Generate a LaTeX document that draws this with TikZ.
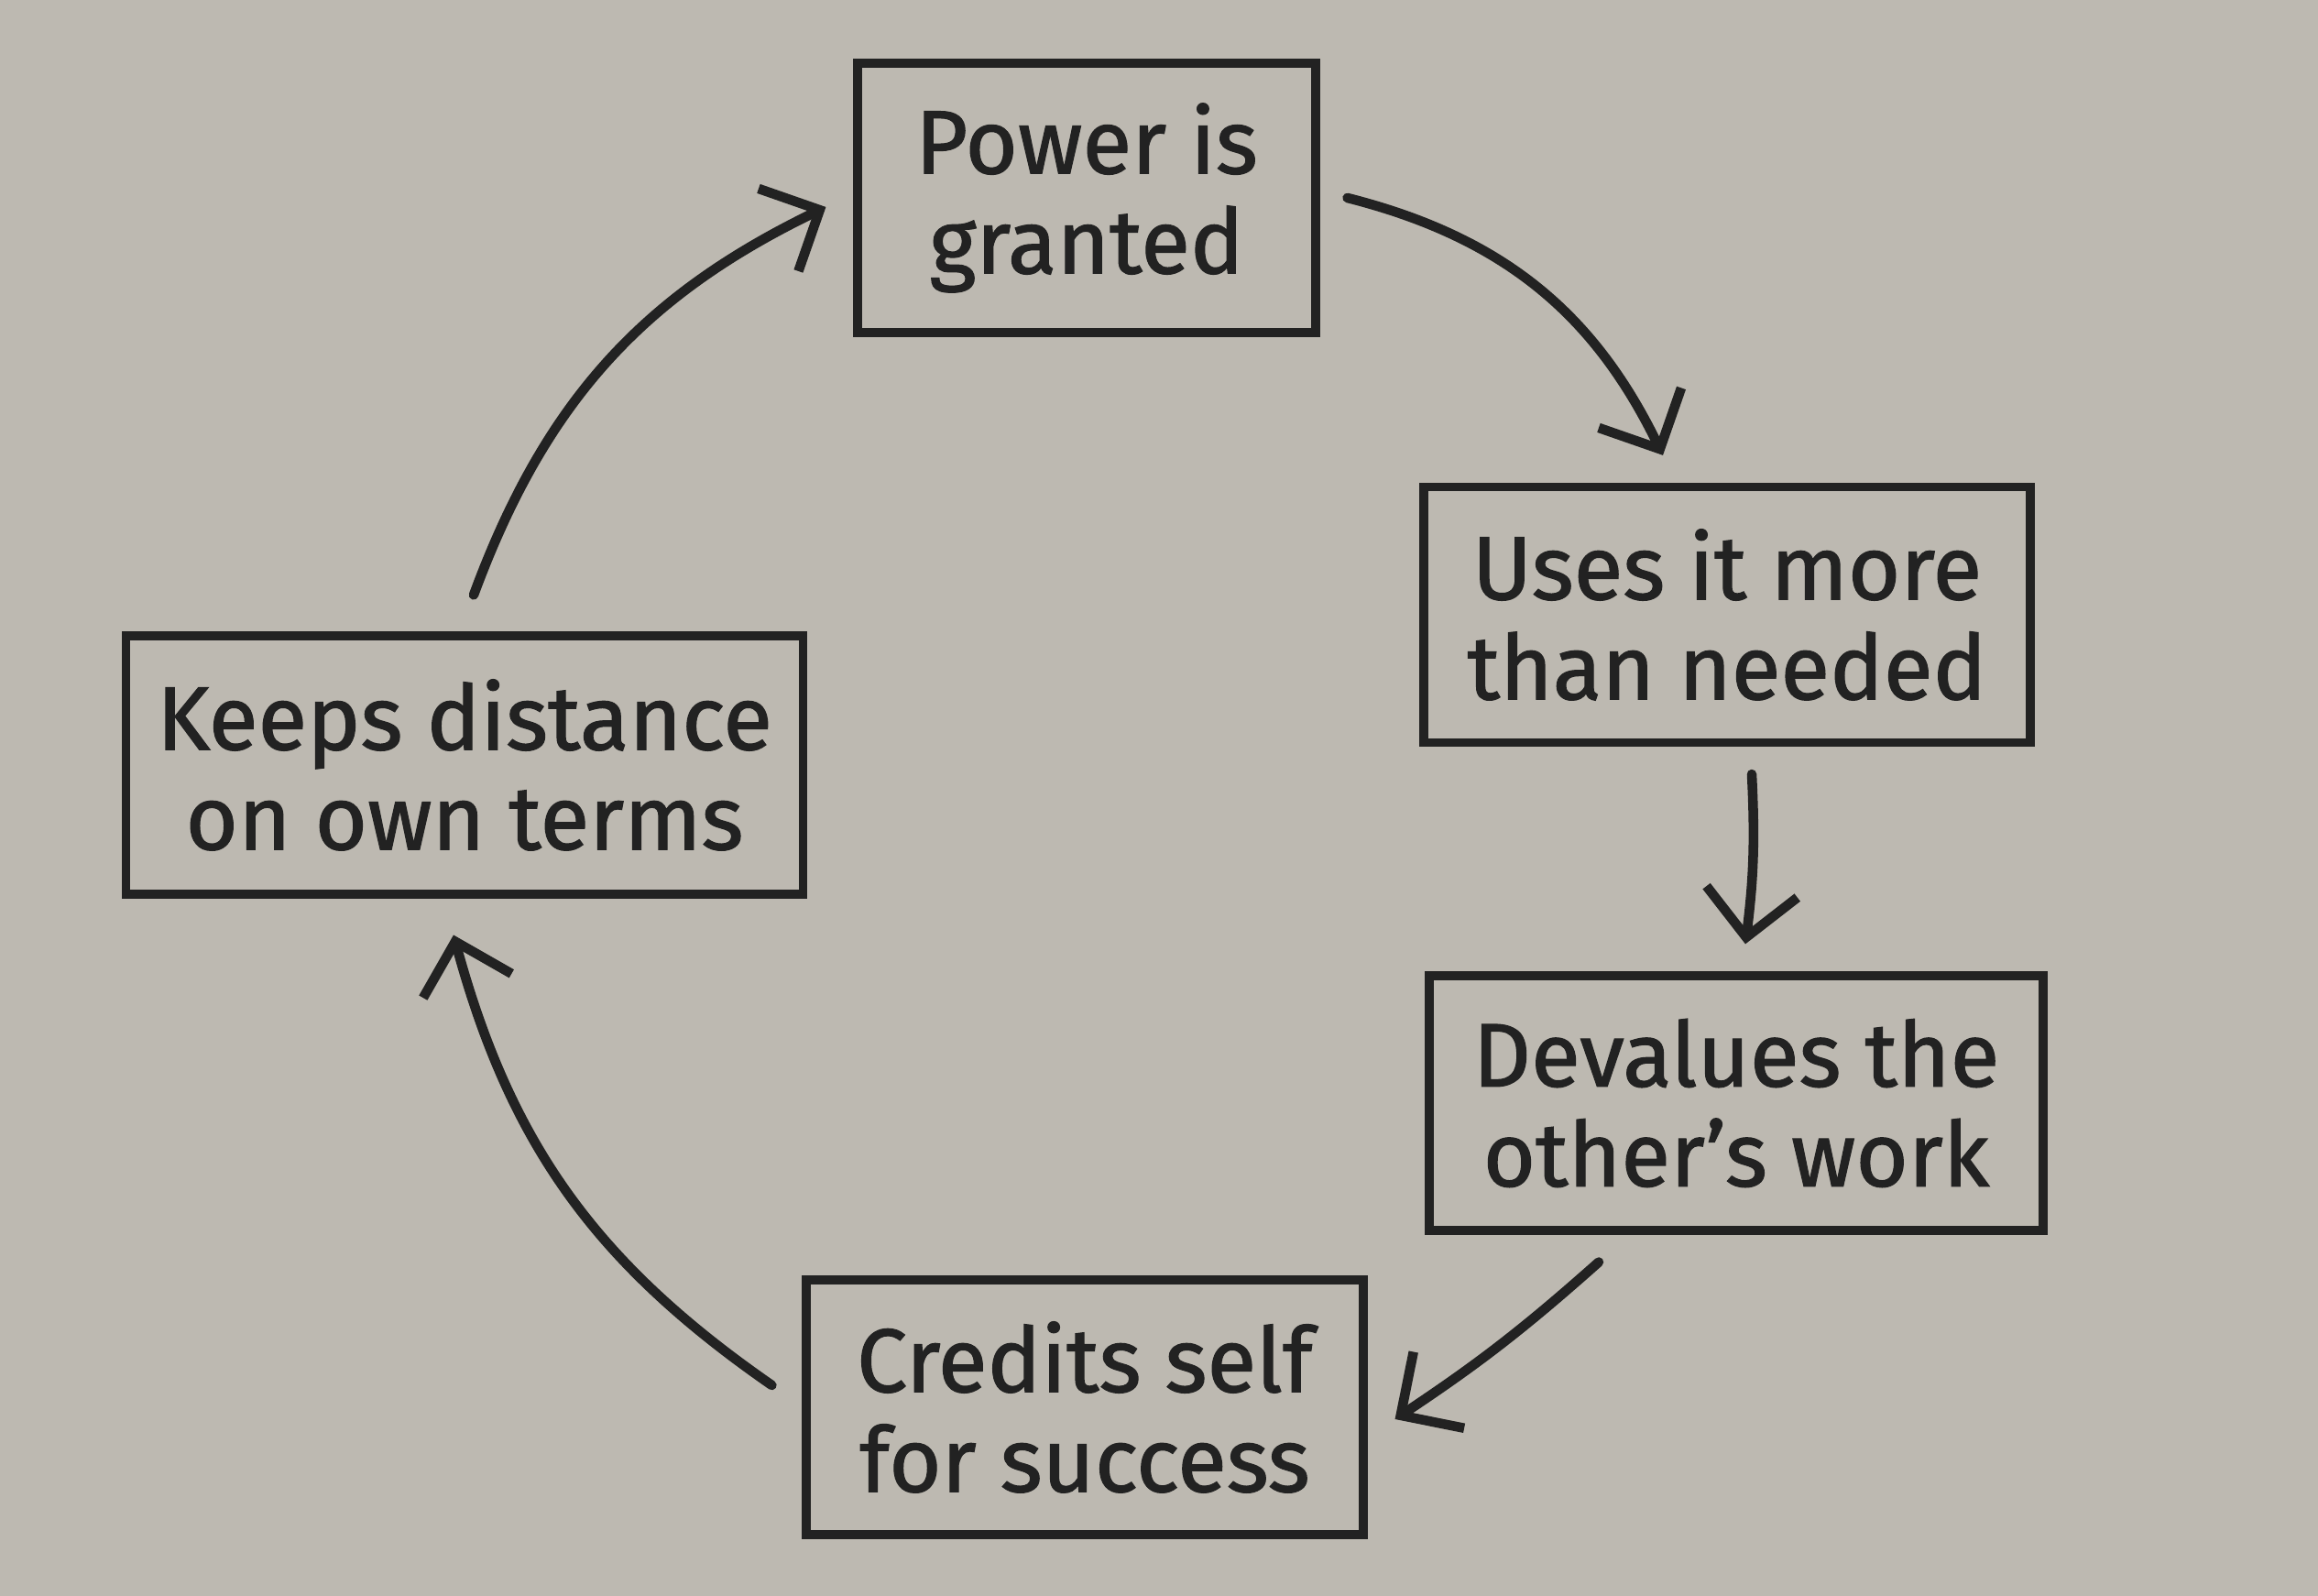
\documentclass[tikz,border=0pt]{standalone}
\usepackage{fontspec}
\setmainfont{Fira Sans}
\newfontfamily\handfont{Fira Sans}[FakeBold=1.2]
\usetikzlibrary{positioning, arrows.meta, calc}
\definecolor{paper}{HTML}{BDB9B1}
\definecolor{ink}{HTML}{222222}

\begin{document}
\begin{tikzpicture}[
    box/.style={rectangle, draw=ink, line width=2.6pt, align=center, text=ink, inner sep=0pt,
        font=\handfont\fontsize{28}{31}\selectfont},
    arrow/.style={-{Straight Barb[length=5mm, width=10mm, line width=3pt]}, draw=ink, line width=3pt, line cap=round, line join=round}
]
    \fill[paper] (0,0) rectangle (25.30,17.42);
    \useasboundingbox (0,0) rectangle (25.30,17.42);

    \node[box, minimum width=5.0cm, minimum height=2.94cm] (pow) at (11.86,15.26) {Power is\\granted};
    \node[box, minimum width=6.62cm, minimum height=2.79cm] (uses) at (18.85,10.71) {Uses it more\\than needed};
    \node[box, minimum width=6.70cm, minimum height=2.78cm] (dev) at (18.95,5.38) {Devalues the\\other’s work};
    \node[box, minimum width=6.08cm, minimum height=2.78cm] (cred) at (11.84,2.06) {Credits self\\for success};
    \node[box, minimum width=7.39cm, minimum height=2.82cm] (keep) at (5.07,9.07) {Keeps distance\\on own terms};

    \draw[arrow] ([xshift=3mm]pow.east) to[bend left=25] ([xshift=-7mm,yshift=3mm]uses.north);
    \draw[arrow] ([xshift=2.7mm,yshift=-3mm]uses.south) to[bend left=5] ([xshift=1mm,yshift=3mm]dev.north);
    \draw[arrow] ([xshift=-15mm,yshift=-3mm]dev.south) to[bend left=4] ([xshift=3mm,yshift=-1.3mm]cred.east);
    \draw[arrow] ([xshift=-3.3mm,yshift=2.4mm]cred.west) to[bend left=20] ([xshift=-1.2mm,yshift=-4mm]keep.south);
    \draw[arrow] ([xshift=1mm,yshift=4mm]keep.north) to[bend left=22] ([xshift=-3mm,yshift=-1mm]pow.west);
\end{tikzpicture}
\end{document}
